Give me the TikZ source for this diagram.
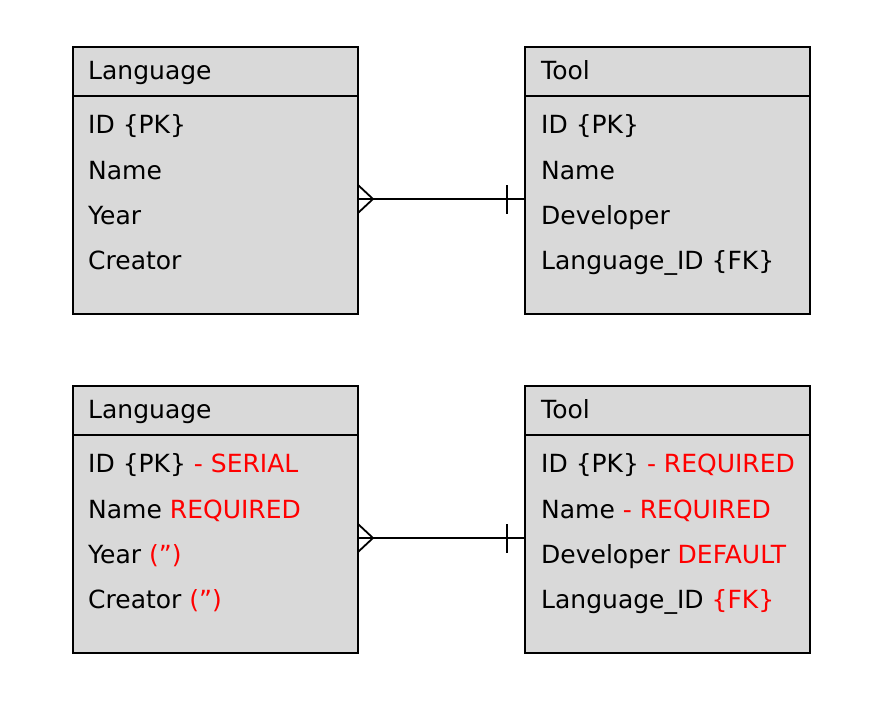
\documentclass[tikz,border=0pt]{standalone}
\usepackage{fontspec}
\setmainfont{DejaVu Sans}
\usetikzlibrary{calc}
\definecolor{boxgray}{HTML}{D9D9D9}
\definecolor{attrred}{HTML}{FF0000}
\tikzset{
  entity/.style={draw=black, fill=boxgray, line width=1.8bp, minimum width=285bp, minimum height=267bp, inner sep=0pt, outer sep=0pt},
  divider/.style={line width=1.8bp},
  attr/.style={anchor=base west, inner sep=0pt, font=\fontsize{25bp}{28bp}\selectfont},
  rel/.style={line width=1.8bp},
}
\newcommand{\rd}[1]{\textcolor{attrred}{#1}}
\begin{document}
\begin{tikzpicture}[x=1bp,y=-1bp]
\useasboundingbox (0,0) rectangle (883,714);
% top left
\node[entity] (lang1) at (215.5,180.5) {};
\draw[divider] (73,96) -- (358,96);
\node[attr] (lang1h) at (88,79.5) {Language};
\node[attr] (lang1a) at (88,133.5) {ID \{PK\}};
\node[attr] (lang1b) at (88,179) {Name};
\node[attr] (lang1c) at (88,224) {Year};
\node[attr] (lang1d) at (88,269) {Creator};
% top right
\node[entity] (tool1) at (667.5,180.5) {};
\draw[divider] (525,96) -- (810,96);
\node[attr] (tool1h) at (541,79.5) {Tool};
\node[attr] (tool1a) at (541,133.5) {ID \{PK\}};
\node[attr] (tool1b) at (541,179) {Name};
\node[attr] (tool1c) at (541,224) {Developer};
\node[attr] (tool1d) at (541,269) {Language\_ID \{FK\}};
% bottom left
\node[entity] (lang2) at (215.5,519.5) {};
\draw[divider] (73,435) -- (358,435);
\node[attr] (lang2h) at (88,418.5) {Language};
\node[attr] (lang2a) at (88,472.5) {ID \{PK\} \rd{- SERIAL}};
\node[attr] (lang2b) at (88,518) {Name \rd{REQUIRED}};
\node[attr] (lang2c) at (88,563) {Year \rd{(”)}};
\node[attr] (lang2d) at (88,608) {Creator \rd{(”)}};
% bottom right
\node[entity] (tool2) at (667.5,519.5) {};
\draw[divider] (525,435) -- (810,435);
\node[attr] (tool2h) at (541,418.5) {Tool};
\node[attr] (tool2a) at (541,472.5) {ID \{PK\} \rd{- REQUIRED}};
\node[attr] (tool2b) at (541,518) {Name \rd{- REQUIRED}};
\node[attr] (tool2c) at (541,563) {Developer \rd{DEFAULT}};
\node[attr] (tool2d) at (541,608) {Language\_ID \rd{\{FK\}}};
% relationships
\coordinate (r1a) at (lang1.east |- 0,199);
\coordinate (r1b) at (tool1.west |- 0,199);
\coordinate (r2a) at (lang2.east |- 0,538);
\coordinate (r2b) at (tool2.west |- 0,538);
\foreach \a/\b in {r1a/r1b, r2a/r2b}{
  \draw[rel] (\a) -- (\b);
  \draw[rel] ($(\a)+(0,-14)$) -- ($(\a)+(15,0)$) -- ($(\a)+(0,14)$);
  \draw[rel] ($(\b)+(-18,-14)$) -- ($(\b)+(-18,15)$);
}
\end{tikzpicture}
\end{document}
